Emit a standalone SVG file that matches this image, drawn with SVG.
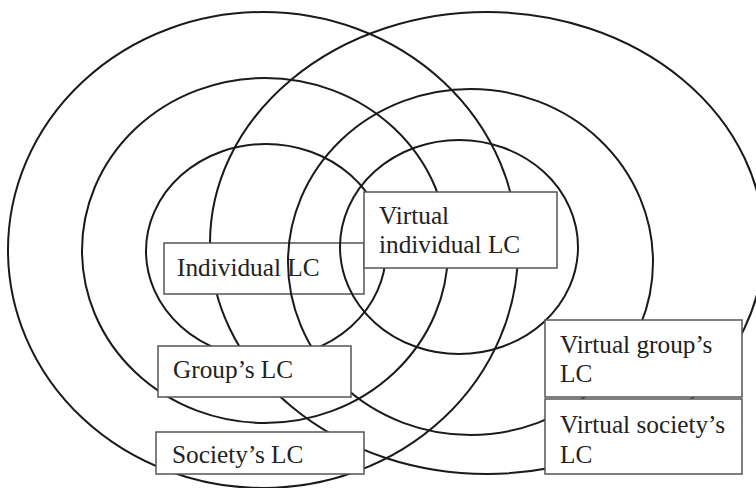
<svg xmlns="http://www.w3.org/2000/svg" width="756" height="488" viewBox="0 0 756 488">
<style>
.ring{fill:none;stroke:#1a1a1a;stroke-width:2}
.box{fill:#fff;stroke:#555;stroke-width:1.5}
.lbl{font-family:"Liberation Serif","Times New Roman",serif;font-size:25.3px;fill:#222}
</style>
<rect width="756" height="488" fill="#fff"/>
<g id="rings-back">
<ellipse id="virtual-society-ring" class="ring" cx="487" cy="243" rx="277" ry="231"/>
<ellipse id="society-ring" class="ring" cx="263" cy="250" rx="255" ry="238"/>
<ellipse id="group-ring" class="ring" cx="265" cy="250.5" rx="183" ry="172.5"/>
<ellipse id="individual-ring" class="ring" cx="266" cy="251" rx="120" ry="107"/>
</g>
<g id="individual">
<rect class="box" x="164" y="243" width="200" height="51"/>
<text class="lbl" x="177" y="276">Individual LC</text>
</g>
<g id="rings-front">
<ellipse id="virtual-group-ring" class="ring" cx="470.5" cy="262" rx="182.5" ry="173"/>
<ellipse id="virtual-individual-ring" class="ring" cx="459" cy="247" rx="119" ry="107"/>
</g>
<g id="virtual-individual">
<rect class="box" x="364" y="192" width="193" height="76"/>
<text class="lbl" x="379" y="224">Virtual</text>
<text class="lbl" x="379" y="253">individual LC</text>
</g>
<g id="group">
<rect class="box" x="158" y="346" width="193" height="51"/>
<text class="lbl" x="173" y="378">Group’s LC</text>
</g>
<g id="society">
<rect class="box" x="156" y="432" width="208" height="42"/>
<text class="lbl" x="172" y="463">Society’s LC</text>
</g>
<g id="virtual-group">
<rect class="box" x="545" y="320" width="197" height="77"/>
<text class="lbl" x="560" y="353">Virtual group’s</text>
<text class="lbl" x="560" y="382">LC</text>
</g>
<g id="virtual-society">
<rect class="box" x="545" y="399" width="197" height="75"/>
<text class="lbl" x="560" y="433">Virtual society’s</text>
<text class="lbl" x="560" y="463">LC</text>
</g>
<g id="connectors"/>
</svg>
